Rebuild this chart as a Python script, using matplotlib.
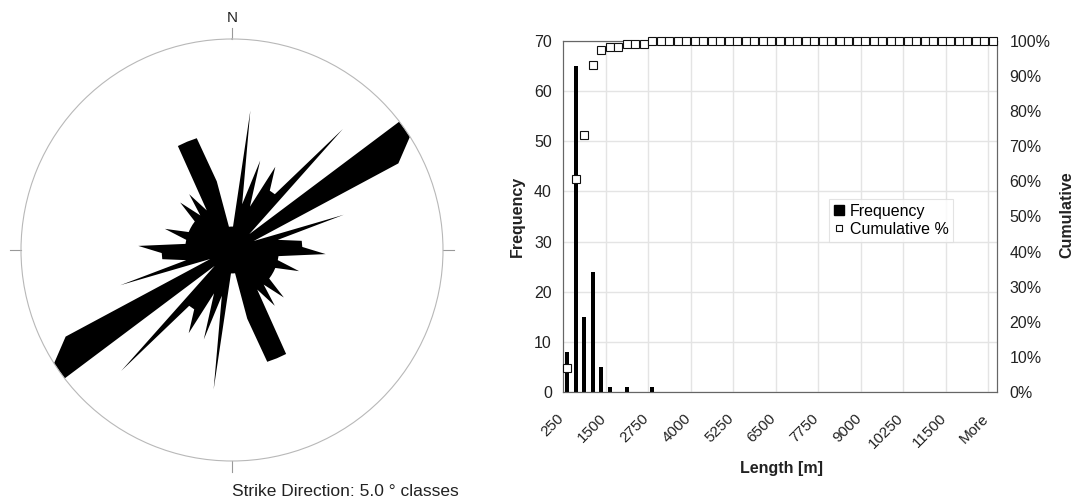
import numpy as np
import matplotlib
matplotlib.use('Agg')
import matplotlib.pyplot as plt
from matplotlib.lines import Line2D
from matplotlib.ticker import PercentFormatter
from matplotlib.transforms import ScaledTranslation

plt.rcParams['font.family'] = ['Liberation Sans', 'DejaVu Sans']

# rose diagram: strikes per 5 degree class (0-180 deg, plotted bidirectional)
class_centers = np.arange(2.5, 180, 5)
strike_counts = [1, 6, 2, 4, 2, 4, 3, 3, 7, 1, 9, 9, 8, 1, 5, 2, 3, 3,
                 4, 2, 2, 3, 2, 2, 2, 2, 3, 2, 3, 2, 5, 5, 5, 3, 1, 1]
rose_max = 9

# length histogram (Excel style, 250 m bins)
bin_labels = [str(v) for v in range(250, 12501, 250)] + ['More']
freq = [8, 65, 15, 24, 5, 1, 0, 1, 0, 0, 1, 0, 0, 0, 0, 0, 0,
        0, 0, 0, 0, 0, 0, 0, 0, 0, 0, 0, 0, 0, 0, 0, 0, 0,
        0, 0, 0, 0, 0, 0, 0, 0, 0, 0, 0, 0, 0, 0, 0, 0, 0]
cum_pct = [6.7, 60.8, 73.3, 93.3, 97.5, 98.3, 98.3, 99.2, 99.2, 99.2,
           100, 100, 100, 100, 100, 100, 100, 100, 100, 100, 100, 100, 100,
           100, 100, 100, 100, 100, 100, 100, 100, 100, 100, 100, 100, 100,
           100, 100, 100, 100, 100, 100, 100, 100, 100, 100, 100, 100, 100,
           100, 100]

W, H = 1079, 503
fig = plt.figure(figsize=(W / 100, H / 100), dpi=100)
txt = '#222222'

# ---- rose diagram
ax_r = fig.add_axes([21 / W, 42 / H, 422 / W, 422 / H], projection='polar')
ax_r.set_theta_zero_location('N')
ax_r.set_theta_direction(-1)
theta = np.deg2rad(np.concatenate([class_centers, class_centers + 180]))
radii = np.array(strike_counts + strike_counts)
ax_r.fill(theta, radii, color='black', lw=0)
ax_r.set_ylim(0, rose_max)
ax_r.set_xticks([])
ax_r.set_yticks([])
ax_r.grid(False)
ax_r.spines['polar'].set_color('#b8b8b8')
ax_r.spines['polar'].set_linewidth(0.8)
for a in [0, 90, 180, 270]:
    ax_r.plot([np.deg2rad(a)] * 2, [rose_max, rose_max * 1.05], color='#999999',
              lw=0.8, clip_on=False)
ax_r.text(0, rose_max * 1.1, 'N', ha='center', va='center', fontsize=11, color=txt)
fig.text(232 / W, 1 - 491 / H, 'Strike Direction: 5.0 ° classes', ha='left', va='center',
         fontsize=12.5, color=txt)

# ---- histogram
ax = fig.add_axes([563 / W, 111 / H, 434 / W, 351 / H])
x = np.arange(len(bin_labels))
ax.bar(x, freq, width=0.45, color='black', zorder=3)
ax.set_xlim(-0.5, len(bin_labels) - 0.5)
ax.set_ylim(0, 70)
ax.set_yticks(range(0, 71, 10))
ax.set_xticks(x[::5])
ax.set_xticklabels(bin_labels[::5], rotation=45, ha='right', va='top', rotation_mode='anchor')
ax.set_xticks(np.arange(4.5, len(bin_labels) - 1, 5), minor=True)
ax.grid(axis='y', which='major', color='#e4e4e4', lw=1, zorder=0)
ax.grid(axis='x', which='minor', color='#e4e4e4', lw=1, zorder=0)
ax.tick_params(which='both', length=0, colors=txt)
ax.tick_params(axis='x', pad=6, labelsize=11)
ax.tick_params(axis='y', pad=8, labelsize=11.5)
shift = ScaledTranslation(-11 / 100, -11 / 100, fig.dpi_scale_trans)
for lab in ax.get_xticklabels():
    lab.set_transform(lab.get_transform() + shift)
for s in ax.spines.values():
    s.set_color('#666666')

ax2 = ax.twinx()
ax2.plot(x, np.array(cum_pct) / 100, 's', mfc='white', mec='#111111', ms=5.2, mew=0.8,
         clip_on=False, zorder=4)
ax2.set_ylim(0, 1)
ax2.set_yticks(np.arange(0, 1.01, 0.1))
ax2.yaxis.set_major_formatter(PercentFormatter(1.0, decimals=0))
ax2.tick_params(length=0, labelsize=11.5, colors=txt, pad=9)
for s in ax2.spines.values():
    s.set_color('#666666')

fig.text(517 / W, 1 - 216 / H, 'Frequency', rotation=90, ha='center', va='center',
         fontsize=11.5, fontweight='bold', color=txt)
fig.text(1067 / W, 1 - 215 / H, 'Cumulative', rotation=90, ha='center', va='center',
         fontsize=11.5, fontweight='bold', color=txt)
fig.text(781 / W, 1 - 468 / H, 'Length [m]', ha='center', va='center',
         fontsize=11.5, fontweight='bold', color=txt)

handles = [Line2D([], [], ls='none', marker='s', color='black', ms=7.2),
           Line2D([], [], ls='none', marker='s', mfc='white', mec='#111111', ms=5, mew=0.8)]
leg = ax2.legend(handles, ['Frequency', 'Cumulative %'], loc='upper left',
                 bbox_to_anchor=(829 / W, 1 - 199 / H), bbox_transform=fig.transFigure,
                 fontsize=11.5, frameon=True, fancybox=False, borderpad=0.3,
                 handlelength=0.7, handletextpad=0.3, labelspacing=0.2, borderaxespad=0)
leg.get_frame().set_edgecolor('#dddddd')
leg.get_frame().set_linewidth(0.8)

fig.savefig('out.png', dpi=100)
